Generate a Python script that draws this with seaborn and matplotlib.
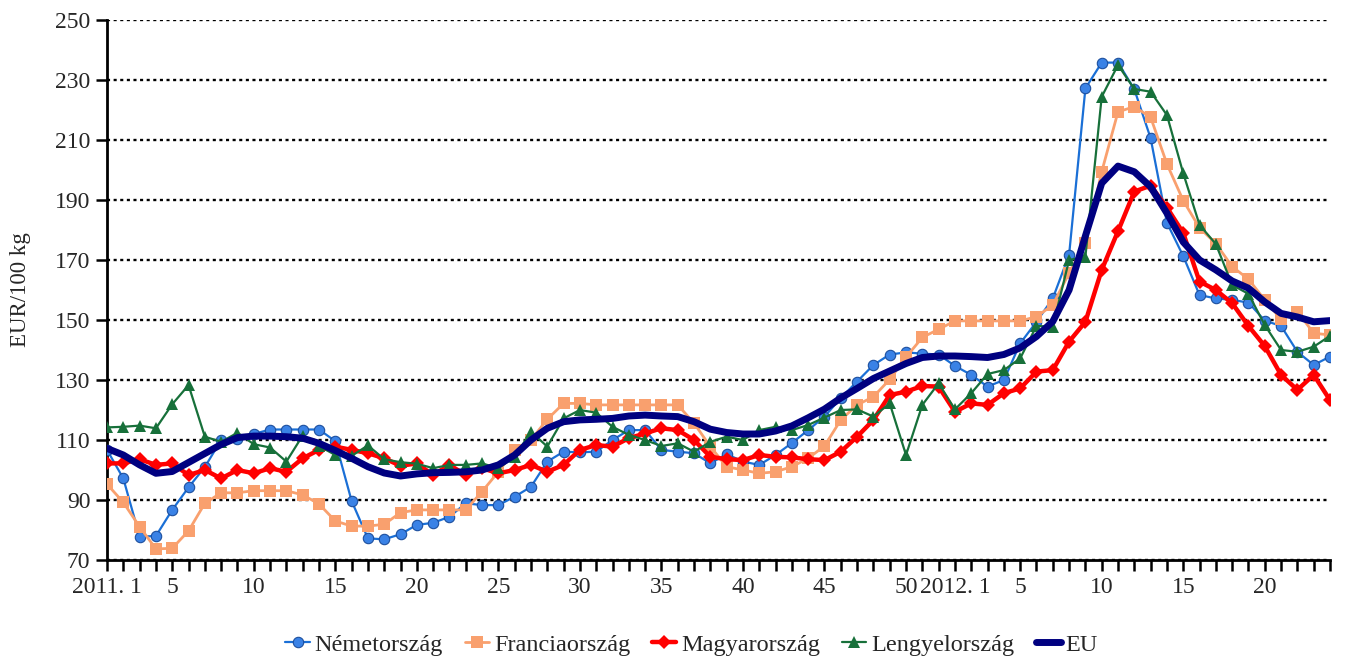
import numpy as np
import pandas as pd
import seaborn as sns
import matplotlib.pyplot as plt

# 2011 week 1..52, 2012 week 1..24
weeks_2011 = list(range(1, 53))
weeks_2012 = list(range(1, 25))

nemetorszag = [106.7, 97.2, 77.8, 78.0, 86.7, 94.2, 101.0, 110.0, 110.5, 112.0,
               113.5, 113.5, 113.5, 113.5, 109.6, 89.7, 77.2, 76.9, 78.6, 81.7,
               82.4, 84.4, 88.9, 88.3, 88.3, 91.1, 94.4, 102.8, 106.1, 105.9,
               106.1, 110.0, 113.3, 113.3, 106.7, 106.1, 105.6, 102.2, 105.3, 102.8,
               101.7, 105.0, 109.0, 113.3, 117.8, 124.0, 129.5, 135.0, 138.5, 139.2,
               138.8, 138.5, 134.7, 131.7, 127.8, 130.0, 142.2, 149.4, 157.2, 171.7,
               227.2, 235.8, 235.8, 226.9, 210.6, 182.4, 171.3, 158.3, 157.2, 156.7,
               155.8, 149.8, 148.0, 139.4, 135.0, 137.8]

franciaorszag = [95.3, 89.2, 81.1, 73.7, 73.9, 79.7, 88.9, 92.4, 92.4, 93.1,
                 93.1, 93.1, 91.7, 88.7, 83.0, 81.3, 81.3, 81.9, 85.8, 86.7,
                 86.7, 86.7, 86.7, 92.8, 99.4, 106.7, 110.0, 116.9, 122.2, 122.2,
                 121.7, 121.7, 121.7, 121.7, 121.7, 121.7, 115.6, 107.8, 101.1, 100.0,
                 98.9, 99.4, 101.1, 103.9, 108.0, 116.7, 121.7, 124.4, 130.2, 137.6,
                 144.2, 146.9, 149.7, 149.7, 149.7, 149.7, 149.7, 151.1, 155.0, 165.6,
                 175.6, 199.4, 219.4, 221.1, 217.6, 202.0, 189.8, 180.7, 175.5, 167.8,
                 163.6, 156.7, 150.2, 152.8, 145.6, 145.0]

magyarorszag = [102.2, 102.2, 103.6, 101.7, 102.2, 98.3, 100.0, 97.2, 100.0, 98.9,
                100.6, 99.4, 103.9, 106.7, 107.8, 106.7, 105.6, 103.9, 101.4, 102.2,
                98.3, 101.7, 98.3, 100.6, 98.9, 100.0, 101.7, 99.4, 101.7, 106.7,
                108.3, 107.8, 110.6, 112.2, 113.9, 113.3, 110.0, 104.4, 103.6, 103.3,
                105.0, 104.4, 104.2, 103.6, 103.3, 106.1, 111.1, 116.7, 125.0, 126.1,
                128.0, 127.8, 119.4, 122.2, 121.7, 125.6, 127.2, 132.8, 133.3, 142.8,
                149.4, 166.7, 179.6, 192.8, 194.8, 187.5, 179.0, 162.8, 160.0, 155.6,
                148.0, 141.3, 131.7, 126.7, 131.7, 123.3]

lengyelorszag = [114.2, 114.4, 114.8, 113.9, 121.9, 128.3, 111.1, 109.4, 112.4, 108.6,
                 107.5, 102.8, 111.5, 108.0, 105.0, 104.7, 108.2, 103.6, 102.6, 102.1,
                 100.6, 101.7, 101.7, 102.2, 100.6, 104.4, 112.8, 107.8, 117.2, 120.0,
                 119.1, 114.4, 111.7, 110.0, 108.0, 108.9, 106.1, 109.4, 111.1, 110.0,
                 113.3, 114.4, 113.3, 115.0, 117.5, 120.0, 120.2, 117.8, 122.2, 105.0,
                 121.7, 128.9, 120.2, 125.6, 132.0, 133.3, 137.2, 148.0, 147.8, 170.0,
                 171.1, 224.4, 235.0, 227.0, 226.1, 218.3, 198.9, 181.7, 175.3, 161.7,
                 158.7, 148.3, 140.0, 139.4, 141.1, 144.7]

eu = [107.2, 105.0, 101.7, 98.9, 99.5, 102.5, 105.5, 108.5, 110.8, 111.3,
      111.3, 111.1, 110.6, 108.9, 106.5, 103.9, 101.1, 99.0, 98.0, 98.7,
      99.1, 99.2, 99.4, 100.0, 101.7, 105.0, 110.0, 113.9, 116.1, 116.7,
      116.9, 117.2, 118.0, 118.3, 118.0, 117.8, 116.1, 113.6, 112.5, 112.0,
      112.0, 113.0, 114.7, 117.4, 120.3, 124.0, 127.2, 130.5, 133.0, 135.5,
      137.5, 138.0, 138.0, 137.8, 137.5, 138.5, 140.7, 144.5, 149.5, 160.0,
      178.0, 195.6, 201.3, 199.4, 194.4, 185.6, 176.0, 170.0, 166.7, 163.0,
      160.6, 156.0, 152.2, 151.0, 149.4, 149.8]

series_names = ["Németország", "Franciaország", "Magyarország", "Lengyelország", "EU"]

# tick labels: first week of each year gets the year, otherwise every 5th week
tick_pos = []
tick_labels = []
for i, (year, wk) in enumerate([(2011, w) for w in weeks_2011] + [(2012, w) for w in weeks_2012]):
    if wk == 1:
        tick_pos.append(i)
        tick_labels.append(f"{year}. 1")
    elif wk % 5 == 0:
        tick_pos.append(i)
        tick_labels.append(str(wk))

n = len(weeks_2011) + len(weeks_2012)
df = pd.DataFrame({
    "idx": np.tile(np.arange(n), len(series_names)),
    "orszag": np.repeat(series_names, n),
    "ar": nemetorszag + franciaorszag + magyarorszag + lengyelorszag + eu,
})

styles = {
    "Németország": dict(color="#1a6fd6", lw=1.6, marker="o", ms=7.5, mfc="#3a82e6", mec="#1d4f9e", mew=0.8),
    "Franciaország": dict(color="#f9a06e", lw=2.0, marker="s", ms=8, mfc="#f9a06e", mec="#f9a06e", mew=0),
    "Magyarország": dict(color="#ff0000", lw=3.2, marker="D", ms=7, mfc="#ff0000", mec="#ff0000", mew=0),
    "Lengyelország": dict(color="#17703a", lw=1.6, marker="^", ms=8.5, mfc="#17703a", mec="#17703a", mew=0),
    "EU": dict(color="#000080", lw=5, marker=None, ms=0, mfc="none", mec="none", mew=0),
}

sns.set_style("white")
plt.rcParams["font.family"] = ["Liberation Serif", "DejaVu Serif"]

fig = plt.figure(figsize=(13.47, 6.61), dpi=100)
ax = fig.add_axes([107 / 1347, 1 - 560 / 661, 1223 / 1347, 540 / 661])

for name in series_names:
    st = styles[name]
    sns.lineplot(data=df[df["orszag"] == name], x="idx", y="ar", ax=ax,
                 color=st["color"], linewidth=st["lw"], marker=st["marker"],
                 markersize=st["ms"], markerfacecolor=st["mfc"],
                 markeredgecolor=st["mec"], markeredgewidth=st["mew"],
                 label=name, zorder=3)

ax.set_xlim(0, n - 1)
ax.set_ylim(70, 250)
ax.set_yticks(range(70, 251, 20))
ax.set_xticks(range(n), minor=True)
ax.set_xticks(tick_pos)
ax.set_xticklabels(tick_labels)

for s in ["top", "right"]:
    ax.spines[s].set_visible(False)
for s in ["left", "bottom"]:
    ax.spines[s].set_color("black")
    ax.spines[s].set_linewidth(2)

ax.tick_params(axis="both", which="both", direction="out", length=8, width=1.8,
               color="black", labelsize=17, pad=4)
ax.tick_params(axis="x", which="both", bottom=True)
ax.tick_params(axis="y", left=True)

ax.yaxis.grid(True, color="black", linestyle=(0, (1.3, 1.5)), linewidth=1.7, zorder=0)
ax.xaxis.grid(False)
ax.set_axisbelow(True)

ax.set_xlabel("")
ax.set_ylabel("EUR/100 kg", fontsize=16.5)
ax.yaxis.set_label_coords(-0.062, 0.5)

ax.legend(loc="center", bbox_to_anchor=(0.478, -0.157), ncol=5, frameon=False,
          fontsize=17.5, handlelength=1.0, handletextpad=0.2, columnspacing=0.9)

fig.savefig("out.png", dpi=100)
